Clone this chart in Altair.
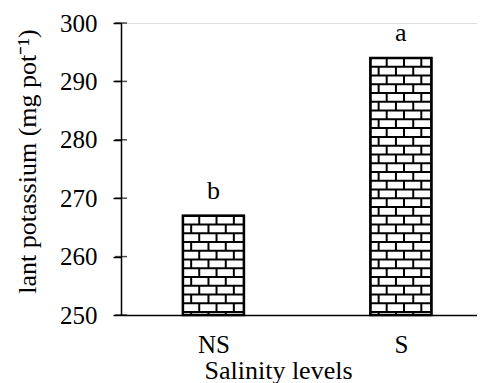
import altair as alt
import pandas as pd

# ---- data ----
categories = ["NS", "S"]
positions = [1, 2]
values = [267, 294]
letters = ["b", "a"]
y_ticks = [250, 260, 270, 280, 290, 300]

FONT = "Liberation Serif"
Y_MIN, Y_MAX = 250, 300
X_DOM = [0.507, 2.406]
HALF_W = 0.1627          # half bar width in x units
ROW_H = 1.5              # brick row height in y units
BRICK = 0.0923           # brick length in x units
OFFS = [0.087, 0.044]    # alternating joint offsets from bar left

bars = pd.DataFrame({
    "cat": categories,
    "pos": positions,
    "val": values,
    "letter": letters,
})
bars["xl"] = bars["pos"] - HALF_W
bars["xr"] = bars["pos"] + HALF_W
bars["base"] = Y_MIN

# brick pattern derived from the bars
hrows, vrows = [], []
for _, b in bars.iterrows():
    k = 0
    top = b["val"]
    while top > Y_MIN + 1e-9:
        bot = max(top - ROW_H, Y_MIN)
        if bot > Y_MIN:
            hrows.append({"x": b["xl"], "x2": b["xr"], "y": bot})
        xj = b["xl"] + OFFS[k % 2]
        while xj < b["xr"] - 0.01:
            vrows.append({"x": xj, "y": bot, "y2": top})
            xj += BRICK
        top = bot
        k += 1
hlines = pd.DataFrame(hrows)
vlines = pd.DataFrame(vrows)

xscale = alt.Scale(domain=X_DOM, nice=False, zero=False)
yscale = alt.Scale(domain=[Y_MIN, Y_MAX], nice=False, zero=False)

x_axis = alt.Axis(
    values=positions,
    labelExpr="datum.value == 1 ? 'NS' : 'S'",
    title="Salinity levels",
    ticks=False, tickSize=0, grid=False,
    domainColor="black", domainWidth=1.5,
    labelFont=FONT, labelFontSize=25, labelColor="black",
    labelPadding=17, labelBaseline="top",
    titleFont=FONT, titleFontSize=26, titleFontWeight="normal", titleColor="black",
    titleX=157, titleY=63, titleAnchor="start", titleAlign="center",
    titleBaseline="alphabetic",
)
y_axis = alt.Axis(
    values=y_ticks,
    title="lant potassium (mg pot\u207b\u00b9)",
    grid=False, tickSize=8, tickColor="black", tickWidth=1.5,
    domainColor="black", domainWidth=1.5,
    labelFont=FONT, labelFontSize=25, labelColor="black", labelPadding=16,
    titleFont=FONT, titleFontSize=26, titleFontWeight="normal", titleColor="black",
    titleX=-94, titleY=138, titleAlign="center", titleBaseline="middle", titleAngle=-90,
)

def X(f):
    return alt.X(f, scale=xscale, axis=x_axis)

def Y(f):
    return alt.Y(f, scale=yscale, axis=y_axis)

base_rect = alt.Chart(bars).mark_rect(fill="white", stroke="black", strokeWidth=2).encode(
    x=X("xl:Q"), x2="xr:Q", y=Y("base:Q"), y2="val:Q",
)
h = alt.Chart(hlines).mark_rule(color="black", strokeWidth=2).encode(
    x=X("x:Q"), x2="x2:Q", y=Y("y:Q"),
)
v = alt.Chart(vlines).mark_rule(color="black", strokeWidth=2).encode(
    x=X("x:Q"), y=Y("y:Q"), y2="y2:Q",
)
outline = alt.Chart(bars).mark_rect(fill=None, stroke="black", strokeWidth=2.5).encode(
    x=X("xl:Q"), x2="xr:Q", y=Y("base:Q"), y2="val:Q",
)
labels = alt.Chart(bars).mark_text(
    font=FONT, fontSize=26, color="black", dy=-17, baseline="alphabetic"
).encode(
    x=X("pos:Q"), y=Y("val:Q"), text="letter:N",
)
inner_ticks = alt.Chart(pd.DataFrame({"t": y_ticks})).mark_tick(
    orient="horizontal", size=12, thickness=1.5, color="black"
).encode(
    x=alt.value(0), y=Y("t:Q")
)

chart = alt.layer(base_rect, h, v, outline, labels, inner_ticks).properties(
    width=356, height=292,
    autosize=alt.AutoSizeParams(type="none"),
    padding={"left": 113, "top": 15, "right": 0, "bottom": 68},
).configure_view(stroke=None).configure(
    background="white", font=FONT
).configure_axis(labelFont=FONT, titleFont=FONT)

chart.save("out.html", embed_options={"renderer": "svg", "actions": False})
